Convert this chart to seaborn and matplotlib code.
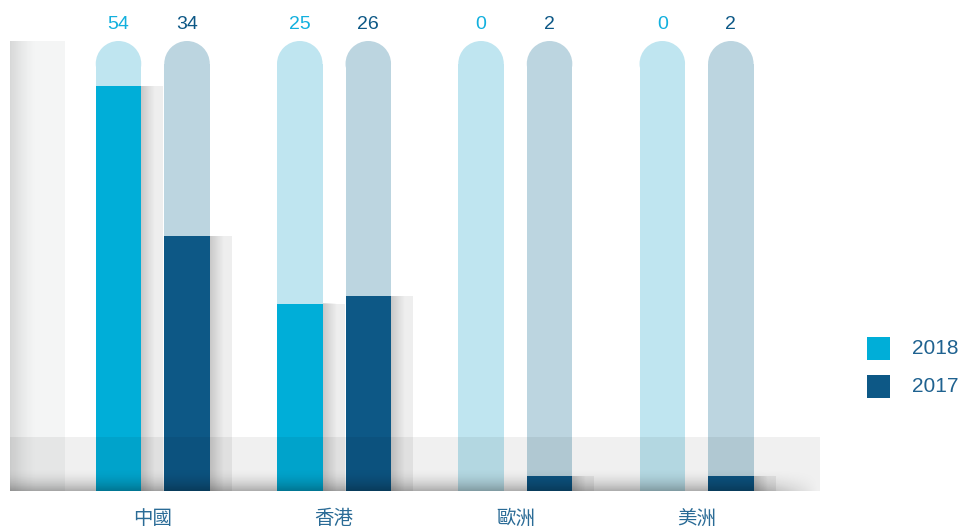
import numpy as np
import pandas as pd
import matplotlib
matplotlib.use("Agg")
import matplotlib.pyplot as plt
from matplotlib.patches import Ellipse, Rectangle
import seaborn as sns

categories = ['中國', '香港', '歐洲', '美洲']
years = ['2018', '2017']
v2018 = [54, 25, 0, 0]
v2017 = [34, 26, 2, 2]
cap_max = 60

sns.set_style("white")
plt.rcParams['font.family'] = ['Liberation Sans', 'Noto Sans CJK TC', 'DejaVu Sans']

c18, c17 = '#00aed8', '#0d5886'
cap18, cap17 = '#bfe5f0', '#bcd5e0'
txt_col = '#2a6b96'
lbl18 = '#12b0de'

df = pd.DataFrame({
    'region': categories * 2,
    'year': [years[0]] * 4 + [years[1]] * 4,
    'value': v2018 + v2017,
})

fig = plt.figure(figsize=(9.63, 5.29), dpi=100)
ax = fig.add_axes([10/963, 38/529, 810/963, 461/529])
xmin, xmax = -0.7876, 3.681
ymax = (491 - 30) / 7.5

sns.barplot(data=df, x='region', y='value', hue='year', hue_order=years,
            palette=[c18, c17], width=0.756, saturation=1, legend=False,
            ax=ax, zorder=3, errorbar=None)

bw = 0.251
bars = list(ax.patches)
for p in bars:
    cx = p.get_x() + p.get_width() / 2
    p.set_width(bw)
    p.set_x(cx - bw / 2)
    p.set_edgecolor('none')

# rounded background capsules
r = 22.75 / 7.5
offs = {'2018': -0.189, '2017': 0.189}
for yr, ccol in zip(years, [cap18, cap17]):
    xs = np.arange(len(categories)) + offs[yr]
    ax.bar(xs, [cap_max - r] * len(categories), width=bw, color=ccol, zorder=2, linewidth=0)
    for x in xs:
        ax.add_patch(Ellipse((x, cap_max - r), bw, 2 * r, facecolor=ccol, edgecolor='none', zorder=2))

# shadows to the right of each bar
sw = 22 / 181.25
for yr, vals in zip(years, [v2018, v2017]):
    xs = np.arange(len(categories)) + offs[yr] + bw / 2 + sw / 2
    ax.bar(xs, vals, width=sw, color='#eeeeee', zorder=1, linewidth=0)
    for x, v in zip(xs, vals):
        if v > 0:
            grad = np.zeros((2, 50, 4))
            grad[..., 3] = np.linspace(0.16, 0.0, 50)[None, :] ** 1.0
            ax.imshow(grad, extent=[x - sw / 2, x - sw / 2 + sw * 0.6, 0, v],
                      aspect='auto', zorder=1.5, interpolation='bilinear')

# left panel
lx1 = (65 - 152.75) / 181.25
ax.add_patch(Rectangle((xmin, 0), lx1 - xmin, cap_max, facecolor='#f4f5f5', edgecolor='none', zorder=1))
grad = np.zeros((2, 60, 4))
a = np.linspace(0, 1, 60)
grad[..., 3] = 0.12 * (1 - a) ** 1.5
ax.imshow(grad, extent=[xmin, xmin + (lx1 - xmin) * 0.5, 0, cap_max], aspect='auto',
          zorder=1.5, interpolation='bilinear')

# bottom band
band_h = (491 - 437) / 7.5
ax.add_patch(Rectangle((xmin, 0), xmax - xmin, band_h, facecolor='black', alpha=0.06,
                       edgecolor='none', zorder=5))
g = np.zeros((40, 200, 4))
vert = np.linspace(0, 1, 40)[:, None] ** 2
hx = np.linspace(0, 1, 200)[None, :]
horiz = np.clip((1 - hx) / 0.08, 0, 1)
g[..., 3] = 0.28 * vert * horiz
ax.imshow(g, extent=[xmin, xmax, 0, 3.2], aspect='auto', origin='upper',
          zorder=5.5, interpolation='bilinear')

# value labels
for i in range(len(categories)):
    ax.text(i - 0.189, 62.2, str(v2018[i]), color=lbl18, fontsize=14,
            ha='center', va='center', clip_on=False)
    ax.text(i + 0.189, 62.2, str(v2017[i]), color=c17, fontsize=14,
            ha='center', va='center', clip_on=False)

ax.set_xlim(xmin, xmax)
ax.set_ylim(0, ymax)
ax.set_xticks(range(len(categories)))
ax.set_xticklabels(categories, fontsize=14, color=txt_col, family=['Noto Sans CJK TC'])
ax.tick_params(axis='x', length=0, pad=12)
ax.set_yticks([])
ax.set_xlabel('')
ax.set_ylabel('')
for s in ax.spines.values():
    s.set_visible(False)

# legend
for yr, col, yb, yt in [('2018', c18, (529 - 360) / 529, (529 - 349) / 529),
                        ('2017', c17, (529 - 398) / 529, (529 - 387) / 529)]:
    fig.patches.append(Rectangle((867 / 963, yb), 23 / 963, 23 / 529, facecolor=col,
                                 edgecolor='none', transform=fig.transFigure, figure=fig))
    fig.text(912 / 963, yt, yr, color='#1f6290', fontsize=15, ha='left', va='center')

fig.savefig('out.png', dpi=100)
